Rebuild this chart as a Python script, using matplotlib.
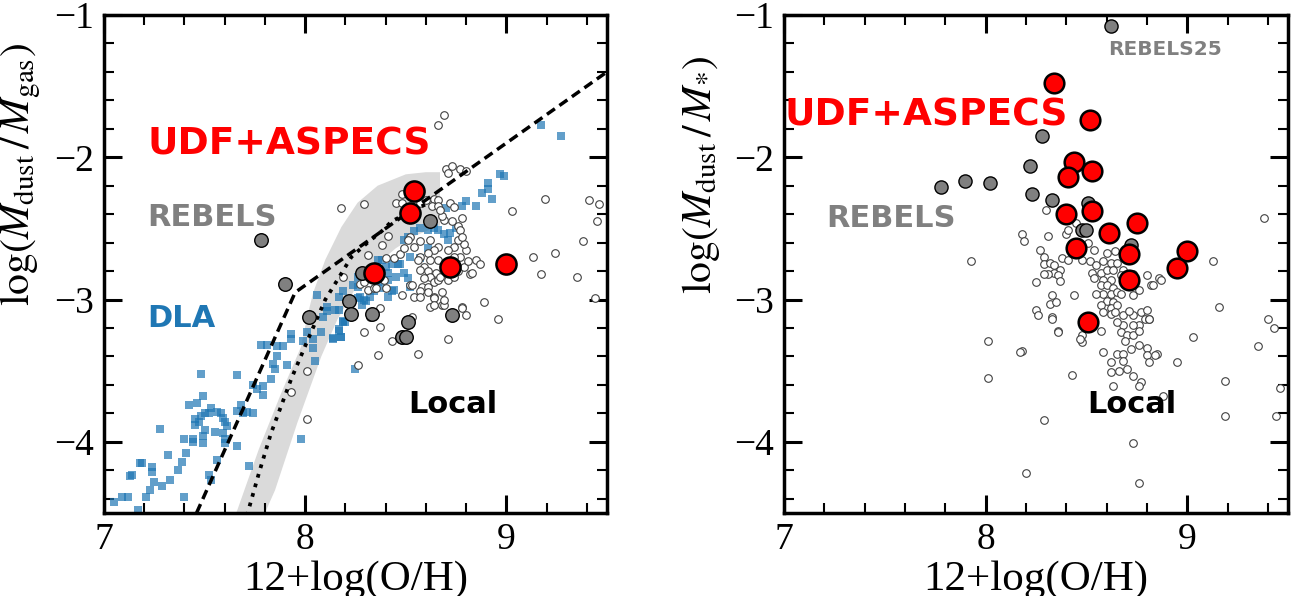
import numpy as np
import matplotlib
matplotlib.use("Agg")
import matplotlib.pyplot as plt
from matplotlib.ticker import MultipleLocator

plt.rcParams["font.family"] = "serif"
plt.rcParams["font.serif"] = ["Liberation Serif", "DejaVu Serif"]
plt.rcParams["mathtext.fontset"] = "stix"

# ---------------- data ----------------
# UDF+ASPECS (red)
udf_dg = [(8.54, -2.24), (8.52, -2.39), (8.34, -2.81), (8.72, -2.77), (9.00, -2.75)]
udf_ds = [(8.34, -1.48), (8.52, -1.74), (8.44, -2.03), (8.41, -2.14), (8.53, -2.10),
          (8.40, -2.40), (8.53, -2.38), (8.75, -2.46), (8.61, -2.53), (8.45, -2.64),
          (8.71, -2.68), (9.00, -2.66), (8.95, -2.78), (8.71, -2.86), (8.51, -3.16)]

# REBELS (grey)
rebels_dg = [(7.78, -2.58), (7.90, -2.89), (8.02, -3.12), (8.22, -3.01), (8.23, -3.10),
             (8.33, -3.10), (8.28, -2.81), (8.62, -2.45), (8.51, -3.16), (8.48, -3.26),
             (8.50, -3.26), (8.73, -3.11)]
rebels_ds = [(8.62, -1.08), (8.28, -1.85), (8.22, -2.06), (7.78, -2.21), (7.90, -2.17),
             (8.02, -2.18), (8.23, -2.26), (8.33, -2.30), (8.51, -2.32), (8.48, -2.51),
             (8.50, -2.51), (8.54, -2.09), (8.72, -2.62)]

# DLA (blue squares)
dla = [(7.05, -4.42), (7.09, -4.39), (7.12, -4.39), (7.17, -4.48), (7.21, -4.39), (7.23, -4.34),
       (7.25, -4.28), (7.29, -4.31), (7.33, -4.27), (7.40, -4.39), (7.37, -4.20), (7.39, -4.14),
       (7.41, -4.08), (7.32, -4.09), (7.24, -4.18), (7.24, -4.21), (7.18, -4.15), (7.19, -4.15),
       (7.14, -4.23), (7.13, -4.24), (7.28, -3.91), (7.40, -3.98), (7.44, -3.98), (7.44, -4.00),
       (7.49, -4.01), (7.49, -3.96), (7.50, -3.92), (7.55, -3.93), (7.59, -3.94), (7.60, -4.01),
       (7.60, -3.98), (7.45, -3.88), (7.45, -3.84), (7.47, -3.86), (7.48, -3.82), (7.50, -3.80),
       (7.53, -3.76), (7.52, -3.80), (7.56, -3.79), (7.58, -3.80), (7.59, -3.83), (7.60, -3.86),
       (7.61, -3.89), (7.42, -3.74), (7.46, -3.73), (7.49, -3.68), (7.48, -3.52), (7.66, -3.53),
       (7.66, -3.78), (7.68, -3.74), (7.69, -3.80), (7.71, -3.79), (7.74, -3.80), (7.74, -3.60),
       (7.76, -3.63), (7.79, -3.67), (7.79, -3.61), (7.78, -3.32), (7.81, -3.32), (7.84, -3.45),
       (7.85, -3.49), (7.83, -3.56), (7.86, -3.33), (7.89, -3.33), (7.86, -3.40), (7.91, -3.46),
       (7.93, -3.28), (7.93, -3.24), (7.99, -3.29), (8.01, -3.23), (8.04, -3.28), (8.04, -3.34),
       (8.05, -3.43), (8.08, -3.23), (8.09, -3.12), (8.14, -3.27), (8.17, -3.22), (8.18, -3.26),
       (8.19, -3.16), (8.25, -3.49), (8.28, -3.04), (7.98, -3.98), (7.72, -4.17), (7.66, -4.03),
       (7.56, -4.13), (7.52, -4.23), (7.53, -4.27),
       (8.06, -2.97), (8.11, -3.05), (8.11, -3.08), (8.15, -3.07), (8.20, -3.16), (8.17, -2.98),
       (8.19, -2.94), (8.26, -2.84), (8.24, -2.90), (8.27, -2.98), (8.30, -3.01), (8.32, -2.98),
       (8.36, -2.88), (8.38, -2.72), (8.40, -2.77), (8.41, -2.86), (8.45, -2.84), (8.46, -2.75),
       (8.41, -2.98), (8.44, -2.93),
       (8.97, -2.12), (8.99, -2.13), (8.91, -2.18), (8.91, -2.22), (8.88, -2.25), (8.93, -2.29),
       (8.85, -2.34), (8.80, -2.31), (8.78, -2.34), (8.70, -2.36), (8.75, -2.50), (8.72, -2.53),
       (8.69, -2.54), (8.66, -2.51), (8.64, -2.50), (8.61, -2.51), (8.57, -2.50), (8.54, -2.52),
       (8.51, -2.56), (8.49, -2.58), (8.52, -2.70), (8.57, -2.71), (8.61, -2.64), (8.71, -2.58),
       (8.36, -2.72), (8.43, -2.75), (8.47, -2.75), (8.41, -2.81), (8.49, -2.81),
       (8.51, -2.85), (8.52, -2.91), (8.43, -2.94), (8.34, -2.94), (8.37, -2.92), (8.29, -3.00),
       (8.26, -2.99), (8.26, -2.91), (8.17, -3.07), (8.19, -3.15), (8.17, -3.21), (8.18, -3.26),
       (8.14, -3.28), (9.17, -1.77), (9.27, -1.85)]

# Local galaxies (open circles)
local_dg = [(8.70, -2.08), (8.73, -2.06), (8.77, -2.08), (8.71, -2.11), (8.80, -2.10),
            (8.18, -2.36), (8.29, -2.33), (8.45, -2.32), (8.48, -2.26), (8.48, -2.32), (8.57, -2.32),
            (8.60, -2.30), (8.64, -2.29), (8.66, -2.30), (8.63, -2.34), (8.66, -2.34), (8.72, -2.32),
            (8.74, -2.35), (8.78, -2.43), (8.76, -2.48), (8.73, -2.45), (8.69, -2.44), (8.68, -2.41),
            (8.67, -2.37), (9.19, -2.29), (9.41, -2.30), (9.46, -2.33), (9.03, -2.38), (9.45, -2.45),
            (8.41, -2.55), (8.38, -2.62), (8.31, -2.69), (8.44, -2.71), (8.40, -2.71), (8.47, -2.68),
            (8.52, -2.56), (8.51, -2.58), (8.49, -2.64), (8.54, -2.63), (8.57, -2.59), (8.62, -2.58),
            (8.66, -2.63), (8.64, -2.65), (8.61, -2.67), (8.57, -2.70), (8.56, -2.72), (8.62, -2.72),
            (8.66, -2.72), (8.59, -2.77), (8.57, -2.79), (8.61, -2.80), (8.65, -2.81), (8.62, -2.84),
            (8.59, -2.85), (8.58, -2.91), (8.61, -2.91), (8.64, -2.88), (8.66, -2.86), (8.67, -2.84),
            (8.57, -2.94), (8.54, -2.98), (8.57, -2.98), (8.61, -2.95), (8.64, -2.98), (8.68, -2.95),
            (8.71, -2.86), (8.74, -2.84), (8.76, -2.80), (8.79, -2.77), (8.81, -2.73), (8.77, -2.70),
            (8.80, -2.65), (8.79, -2.61), (8.76, -2.58), (8.77, -2.51), (8.78, -2.56), (8.74, -2.63),
            (8.71, -2.65), (8.74, -2.70), (8.85, -2.72), (8.87, -2.75), (8.82, -2.82), (8.83, -2.81),
            (9.13, -2.70), (9.24, -2.67), (9.38, -2.59), (9.17, -2.82), (9.35, -2.84), (9.44, -2.99),
            (8.89, -3.02), (8.96, -3.14), (8.27, -2.89), (8.29, -2.88), (8.31, -2.93), (8.34, -2.92),
            (8.35, -2.92), (8.39, -2.86), (8.40, -2.92), (8.48, -2.97), (8.52, -2.90), (8.53, -2.90),
            (8.64, -2.99), (8.62, -3.05), (8.64, -3.04), (8.68, -3.04), (8.69, -3.04), (8.69, -3.00),
            (8.78, -3.05), (8.78, -3.06), (8.80, -3.11), (8.37, -3.06), (8.33, -3.10), (8.32, -3.12),
            (8.53, -3.12), (8.29, -3.23), (8.37, -3.19), (8.43, -3.29), (8.71, -3.28), (8.56, -3.38),
            (8.36, -3.39), (8.26, -3.46), (8.19, -2.84), (8.01, -3.50), (7.93, -3.65), (8.01, -3.84),
            (8.66, -1.77), (8.69, -1.70)]

local_ds = [(8.30, -2.37), (8.18, -2.54), (8.19, -2.59), (8.31, -2.55), (7.93, -2.73), (8.27, -2.65),
            (8.29, -2.70), (8.29, -2.75), (8.32, -2.74), (8.34, -2.76), (8.37, -2.79), (8.34, -2.81),
            (8.36, -2.83), (8.31, -2.82), (8.29, -2.82), (8.25, -2.88), (8.37, -2.87), (8.38, -2.71),
            (8.41, -2.72), (8.42, -2.65), (8.45, -2.46), (8.40, -2.54), (8.41, -2.51), (8.51, -2.60),
            (8.54, -2.65), (8.60, -2.67), (8.64, -2.66), (8.48, -2.72), (8.52, -2.73), (8.55, -2.76),
            (8.58, -2.73), (8.62, -2.74), (8.65, -2.74), (8.68, -2.79), (8.53, -2.81), (8.57, -2.81),
            (8.60, -2.79), (8.63, -2.79), (8.67, -2.83), (8.54, -2.85), (8.58, -2.86), (8.62, -2.86),
            (8.57, -2.90), (8.60, -2.90), (8.63, -2.92), (8.58, -2.96), (8.62, -2.96), (8.65, -2.95),
            (8.55, -2.96), (8.67, -2.96), (8.60, -3.01), (8.63, -3.02), (8.57, -3.04), (8.62, -3.06),
            (8.65, -3.04), (8.58, -3.09), (8.62, -3.10), (8.64, -3.09), (8.68, -3.11), (8.73, -3.11),
            (8.71, -3.08), (8.77, -3.09), (8.80, -3.07), (8.79, -3.14), (8.81, -3.14), (8.76, -3.18),
            (8.73, -3.18), (8.68, -3.18), (8.65, -3.16), (8.67, -3.23), (8.70, -3.25), (8.73, -3.25),
            (8.76, -3.22), (8.69, -3.29), (8.72, -3.35), (8.76, -3.32), (8.80, -3.34), (8.65, -3.38),
            (8.68, -3.38), (8.58, -3.37), (8.62, -3.44), (8.68, -3.43), (8.80, -3.39), (8.85, -3.38),
            (8.81, -3.44), (8.66, -3.50), (8.70, -3.49), (8.62, -3.51), (8.73, -3.54), (8.77, -3.58),
            (8.63, -3.61), (8.73, -2.97), (8.76, -2.93), (8.80, -2.83), (8.86, -2.85), (8.82, -2.90),
            (8.73, -2.82), (8.44, -2.97), (8.33, -2.97), (8.32, -3.03), (8.35, -3.02), (8.25, -3.07),
            (8.26, -3.11), (8.33, -3.12), (8.36, -3.22), (8.48, -3.25), (8.48, -3.30), (8.47, -3.28),
            (8.57, -3.22), (8.01, -3.29), (8.18, -3.36), (8.01, -3.55), (8.43, -3.53), (8.95, -3.44),
            (9.13, -2.73), (9.16, -3.05), (9.40, -3.14), (9.43, -3.20), (9.03, -3.26), (9.35, -3.33),
            (9.19, -3.57), (9.46, -3.62), (9.19, -3.82), (9.44, -3.82), (8.88, -3.68), (8.76, -3.61),
            (8.73, -4.01), (8.76, -4.29), (8.20, -4.22), (8.29, -3.85), (8.17, -3.37), (8.87, -2.86),
            (8.33, -3.14), (8.36, -3.23), (9.38, -2.43), (8.83, -2.90), (8.84, -3.39), (8.81, -3.14)]

# model curves (left panel)
dash_x = [7.46, 7.95, 9.50]
dash_y = [-4.50, -2.95, -1.40]
dot_x = [7.71, 7.77, 7.83, 7.93, 8.02, 8.10, 8.17, 8.23, 8.31, 8.38, 8.43, 8.50, 8.60]
dot_y = [-4.52, -4.22, -3.94, -3.56, -3.26, -3.00, -2.84, -2.70, -2.60, -2.52, -2.45, -2.40, -2.33]
band_up_x = [7.62, 7.66, 7.77, 7.88, 7.98, 8.01, 8.04, 8.10, 8.18, 8.26, 8.36, 8.50, 8.60, 8.67]
band_up_y = [-4.65, -4.49, -4.05, -3.66, -3.33, -3.12, -2.95, -2.72, -2.49, -2.32, -2.20, -2.12, -2.105, -2.105]
band_lo_x = [7.77, 7.80, 7.85, 7.96, 8.08, 8.16, 8.25, 8.35, 8.45, 8.55, 8.67]
band_lo_y = [-4.65, -4.50, -4.34, -3.87, -3.40, -3.14, -2.92, -2.76, -2.64, -2.55, -2.48]


def style(ax, ylabel):
    ax.set_xlim(7, 9.5)
    ax.set_ylim(-4.5, -1)
    ax.xaxis.set_major_locator(MultipleLocator(1))
    ax.xaxis.set_minor_locator(MultipleLocator(0.2))
    ax.yaxis.set_major_locator(MultipleLocator(1))
    ax.yaxis.set_minor_locator(MultipleLocator(0.2))
    ax.tick_params(which="both", direction="in", top=True, right=True)
    ax.tick_params(which="major", length=13, width=2.2, labelsize=27, pad=7)
    ax.tick_params(which="minor", length=7, width=1.5)
    for s in ax.spines.values():
        s.set_linewidth(2.5)
    ax.set_xlabel("12+log(O/H)", fontsize=31, labelpad=2)
    ax.set_ylabel(ylabel, fontsize=30)
    ax.yaxis.set_label_coords(-0.122, 0.68)


def pts(lst):
    a = np.array(lst)
    return a[:, 0], a[:, 1]


fig = plt.figure(figsize=(12.92, 5.96), dpi=100)
ax1 = fig.add_axes([0.0805, 0.1393, 0.3893, 0.8356])
ax2 = fig.add_axes([0.6068, 0.1393, 0.3901, 0.8356])

# left panel: dust-to-gas
ax1.fill(np.concatenate([band_up_x, band_lo_x[::-1]]),
         np.concatenate([band_up_y, band_lo_y[::-1]]),
         color="#dadada", lw=0, zorder=1)
x, y = pts(dla)
ax1.scatter(x, y, marker="s", s=36, color="#1f77b4", alpha=0.7, lw=0, zorder=2)
x, y = pts(local_dg)
ax1.scatter(x, y, s=30, facecolors="white", edgecolors="0.25", linewidths=0.8, zorder=3)
ax1.plot(dash_x, dash_y, color="k", lw=2.5, ls=(0, (2.8, 1.6)), zorder=4)
ax1.plot(dot_x, dot_y, color="k", lw=2.7, ls=":", zorder=4)
x, y = pts(rebels_dg)
ax1.scatter(x, y, s=95, color="grey", edgecolors="k", linewidths=1.0, zorder=5)
x, y = pts(udf_dg)
ax1.scatter(x, y, s=210, color="red", edgecolors="k", linewidths=1.8, zorder=6)

ax1.text(7.215, -1.91, "UDF+ASPECS", color="red", fontsize=27, fontweight="bold",
         family="DejaVu Sans", va="center")
ax1.text(7.215, -2.42, "REBELS", color="grey", fontsize=22, fontweight="bold",
         family="DejaVu Sans", va="center")
ax1.text(7.215, -3.13, "DLA", color="#1f77b4", fontsize=22, fontweight="bold",
         family="DejaVu Sans", va="center")
ax1.text(8.51, -3.74, "Local", color="k", fontsize=22, fontweight="bold",
         family="DejaVu Sans", va="center")
style(ax1, r"$\log(M_{\rm dust}\,/\,M_{\rm gas})$")

# right panel: dust-to-stellar
x, y = pts(local_ds)
ax2.scatter(x, y, s=30, facecolors="white", edgecolors="0.25", linewidths=0.8, zorder=3)
x, y = pts(rebels_ds)
ax2.scatter(x, y, s=90, color="grey", edgecolors="k", linewidths=1.0, zorder=5)
x, y = pts(udf_ds)
ax2.scatter(x, y, s=200, color="red", edgecolors="k", linewidths=1.8, zorder=6)

ax2.text(7.005, -1.71, "UDF+ASPECS", color="red", fontsize=27, fontweight="bold",
         family="DejaVu Sans", va="center")
ax2.text(7.21, -2.43, "REBELS", color="grey", fontsize=22, fontweight="bold",
         family="DejaVu Sans", va="center")
ax2.text(8.607, -1.24, "REBELS25", color="grey", fontsize=14.5, fontweight="bold",
         family="DejaVu Sans", va="center")
ax2.text(8.506, -3.74, "Local", color="k", fontsize=22, fontweight="bold",
         family="DejaVu Sans", va="center")
style(ax2, r"$\log(M_{\rm dust}\,/\,M_{*})$")

fig.savefig("out.png", dpi=100)
